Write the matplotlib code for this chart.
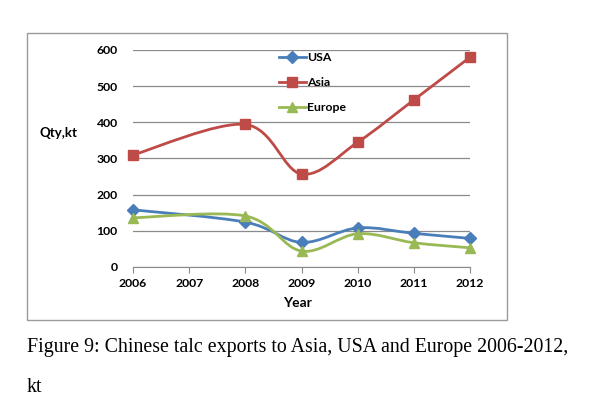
import matplotlib.pyplot as plt
from matplotlib.path import Path
from matplotlib.patches import PathPatch, Rectangle
from matplotlib.lines import Line2D

years = [2006, 2008, 2009, 2010, 2011, 2012]
tick_years = [2006, 2007, 2008, 2009, 2010, 2011, 2012]
usa = [158, 124, 68, 108, 93, 79]
asia = [310, 394, 257, 345, 462, 580]
europe = [136, 141, 44, 92, 67, 53]

BLUE = "#4A7EBB"
RED = "#BE4B48"
GREEN = "#98B954"
FONT = "Lato"


def smooth_path(xs, ys):
    # excel-ish smoothed line: bezier segments, control points from neighbours
    pts = list(zip(xs, ys))
    verts = [pts[0]]
    codes = [Path.MOVETO]
    n = len(pts)
    for i in range(n - 1):
        p0 = pts[i - 1] if i > 0 else pts[i]
        p1 = pts[i]
        p2 = pts[i + 1]
        p3 = pts[i + 2] if i + 2 < n else pts[i + 1]
        c1 = (p1[0] + (p2[0] - p0[0]) / 6, p1[1] + (p2[1] - p0[1]) / 6)
        c2 = (p2[0] - (p3[0] - p1[0]) / 6, p2[1] - (p3[1] - p1[1]) / 6)
        verts += [c1, c2, p2]
        codes += [Path.CURVE4] * 3
    return Path(verts, codes)


fig = plt.figure(figsize=(5.92, 3.96), dpi=100)

# chart border
fig.patches.append(Rectangle((0.0456, 0.1919), 0.8108, 0.7247, transform=fig.transFigure,
                             fill=False, edgecolor="#9a9a9a", linewidth=1.0))

ax = fig.add_axes([0.2247, 0.3258, 0.5693, 0.548])
ax.set_xlim(2006, 2012)
ax.set_ylim(0, 600)

series = [("USA", usa, BLUE, "D", 6), ("Asia", asia, RED, "s", 7.5), ("Europe", europe, GREEN, "^", 7.5)]
for name, vals, color, mk, ms in series:
    ax.add_patch(PathPatch(smooth_path(years, vals), fill=False, edgecolor=color,
                           linewidth=2.0, capstyle="round", joinstyle="round", zorder=3))
    ax.plot(years, vals, linestyle="none", marker=mk, markersize=ms, color=color,
            markeredgecolor=color, zorder=4, clip_on=False)

ax.set_yticks(range(0, 601, 100))
ax.set_xticks(tick_years)
ax.grid(axis="y", color="#8a8a8a", linewidth=0.9)
ax.set_axisbelow(True)
for s in ["top", "right", "left"]:
    ax.spines[s].set_visible(False)
ax.spines["bottom"].set_color("#8a8a8a")
ax.tick_params(axis="y", length=0, pad=11)
ax.tick_params(axis="x", length=4, color="#8a8a8a", pad=4)
for lab in ax.get_xticklabels() + ax.get_yticklabels():
    lab.set_fontfamily(FONT)
    lab.set_fontweight("bold")
    lab.set_fontsize(8.8)

fig.text(40 / 592, 1 - 133 / 396, "Qty,kt", fontfamily=FONT, fontweight="bold",
         fontsize=9.5, ha="left", va="center")
fig.text(297 / 592, 1 - 303 / 396, "Year", fontfamily=FONT, fontweight="bold",
         fontsize=10, ha="center", va="center")

handles = [Line2D([], [], color=c, marker=m, markersize=ms, linewidth=2.0) for _, _, c, m, ms in series]
ax.legend(handles, [s[0] for s in series], loc="upper left", bbox_to_anchor=(0.4, 1.04),
          frameon=False, handlelength=2.2, handletextpad=0.1, labelspacing=1.15,
          prop={"family": FONT, "weight": "bold", "size": 8.8})

fig.text(27 / 592, 1 - 352 / 396, "Figure 9: Chinese talc exports to Asia, USA and Europe 2006-2012,",
         fontfamily="Liberation Serif", fontsize=14.3, ha="left", va="baseline")
fig.text(27 / 592, 1 - 392 / 396, "kt", fontfamily="Liberation Serif", fontsize=14.3,
         ha="left", va="baseline")

fig.savefig("out.png", dpi=100)
